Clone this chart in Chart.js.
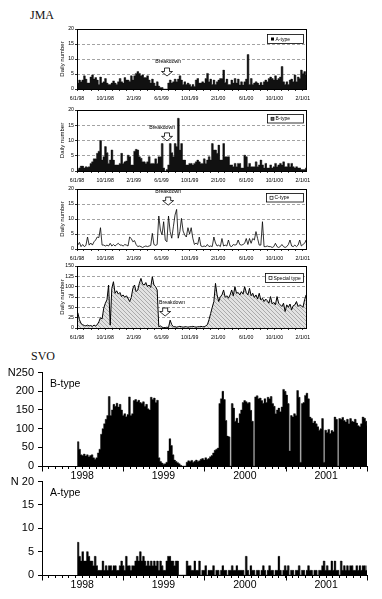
<!DOCTYPE html>
<html><head><meta charset="utf-8">
<script src="https://cdn.jsdelivr.net/npm/chart.js@4.4.1/dist/chart.umd.min.js"></script>
<style>
html,body{margin:0;padding:0;background:#fff;}
body{width:382px;height:599px;position:relative;overflow:hidden;}
canvas{position:absolute;left:0;}
.hd{position:absolute;font-family:"Liberation Serif","DejaVu Serif",serif;font-size:12px;color:#111;line-height:14px;}
</style></head><body>
<div class="hd" style="left:30px;top:8px;">JMA</div>
<div class="hd" style="left:31px;top:349px;">SVO</div>
<canvas id="c1" width="382" height="82" style="top:22px"></canvas>
<canvas id="c2" width="382" height="83" style="top:103px"></canvas>
<canvas id="c3" width="382" height="82" style="top:182px"></canvas>
<canvas id="c4" width="382" height="84" style="top:259px"></canvas>
<canvas id="c5" width="382" height="122" style="top:362px"></canvas>
<canvas id="c6" width="382" height="122" style="top:471px"></canvas>
<script>
// ---------- data (weekly bins) ----------
const jmaStartDate = '6/1/98';   // first JMA bin
const jmaEndDate = '2/19/01';
const jmaTickLabels = ['6/1/98','10/1/98','2/1/99','6/1/99','10/1/99','2/1/00','6/1/00','10/1/00','2/1/01'];
const svoStartDate = '6/8/98';
const svoYears = ['1998','1999','2000','2001'];
const binDays = 7;

const jmaA = [2,3,2.4,3,4.4,3.3,2,2,4,4.7,
3.3,3.8,3,1.5,4,2,2.4,3.5,2,1.5,
1.5,2,2.7,2,1.5,2.4,3.5,2.4,2,3.8,
3,3,2.5,4.4,3,4.4,5.2,5.8,5.2,4.4,
4.7,3.8,3.8,4.4,3,2,3.3,2,1,2.4,
1,0.5,0.5,0,0,0,2,3,2,2.4,
3.3,2.4,3.3,4.4,3,1.5,2.4,1.5,2,1.5,
0.8,1.5,0.8,3,3.5,2,2,2.4,2,3.5,
5.2,2.4,3.3,1.5,3,1.5,2.4,3,3.5,3.5,
6.3,2.2,3.3,1.5,1.5,3,2,3.5,2,3.3,
1.3,2.4,1.3,2.4,3.3,11.5,1.5,3.5,1.5,2,
2.4,2,1.3,2.2,1.3,2.4,3,2.4,3.5,4,
3.5,3,4.4,3,3.5,4,7.5,2.4,1.5,2.4,
1.5,3,3.3,2.4,4.7,2.4,4,3.5,6.3,5.2,
5.8,4.7,5];

const jmaB = [0.5,1,1.6,1.6,1,1.4,1.2,1.4,2.5,3,
4,4,5.8,6.5,10,3.6,4.7,8,6,2.5,
3.6,6.9,3.6,2,2,2,2.5,5.8,2.5,3,
3.3,5.2,4.7,2,2,6.5,7.1,6.9,4.7,4.2,
3,3,2.5,3,4.7,2.5,2.5,2.5,4,2.5,
4.7,4.7,9,1,0,0.5,2,9,6,4.7,
9,8,17.3,6.9,9,3.6,3.6,2,2,2.5,
2.5,2,2.5,3,3.6,3,2.5,2.5,4,2.5,
3.6,4.7,3.6,9,6.9,6.9,5.8,8.5,3.6,3.6,
9,4.7,4.7,4.7,2,2,1.4,2.5,1.4,2.5,
2.5,1,1,5.2,4.7,1.4,2.5,1.4,1.4,1.4,
3,1.4,2,3.6,2,1,2.5,1,1,2,
1,1.4,2.5,1.4,2,2.5,2,3,1.4,1.4,
2.5,1.4,2.5,1.4,1,1.4,1,1,0.5,0.5,
0.5,1,1];

const jmaC = [1.3,2.2,0.8,1.5,0.8,1.2,4,1.3,2,1.3,
2.4,3,4,3.8,7.1,1.3,1.3,1,1.3,1,
1.9,1,1.5,1,1.5,1.9,1.3,1.3,1,1.5,
1.3,1,4,3.5,2.4,2.8,1.5,0.8,1,0.8,
0.5,0.8,1,0.8,1,1.2,5.2,1.5,1.2,1.5,
11,6.3,4.7,9.1,3,2.4,11,5.8,3.6,7.4,
11.3,13.2,3.6,5.8,10.2,6,4.7,4,7.1,5,
7.1,3.6,1.5,2,1.5,4,1,0.8,1,0.8,
1.5,0.8,1,0.8,4,2,1,1.3,0.8,3.5,
1,1.3,1,3,1,0.8,1.5,1.3,1.5,3,
1.5,1.3,1.5,1.9,3.5,1.5,3.5,1.9,3.5,3,
5.8,3.5,1.3,1.3,9.1,0.8,0.8,1,0.8,0.8,
0.5,0.8,1.9,0.8,0.5,0.8,1.5,0.8,0.5,0.8,
1.5,3,1,0.8,1.3,0.8,1.3,3,1,1.5,
1.9,3,1];

const jmaSpecial = [37,20,11,8,6,5,7,5,6,4,
7,5,8,15,25,22,48,60,68,104,
7,96,112,84,90,82,86,76,80,74,
78,72,64,74,96,104,88,92,108,120,
106,104,110,100,104,98,124,104,100,92,
3,5,2,1,1,2,1,19,8,3,
3,2,3,4,3,2,3,3,2,3,
3,4,3,2,3,3,4,3,3,5,
8,20,35,50,64,108,80,64,76,80,
92,74,78,72,80,92,78,100,84,86,
80,88,82,100,86,80,96,78,84,74,
80,70,84,68,72,64,70,66,60,76,
58,62,56,76,60,56,52,60,40,56,
50,58,44,54,56,64,52,56,54,50,
68,80,60];

const svoB = [65,45,30,28,32,27,30,25,28,30,
22,18,22,35,45,85,100,113,125,135,
186,135,150,165,160,168,158,165,150,135,
140,132,138,185,135,140,175,178,172,176,
170,168,172,160,165,153,150,184,178,182,
170,176,22,12,8,5,6,10,40,73,
55,30,16,12,9,6,2,0,0,0,
10,14,12,15,10,13,16,12,14,18,
20,16,22,18,20,25,28,35,42,45,
48,167,180,200,178,122,80,78,0,167,
155,120,128,115,140,150,170,175,172,168,
170,149,120,0,185,188,180,182,175,168,
180,170,184,180,186,167,160,140,150,155,
145,158,205,200,190,167,40,135,131,140,
135,202,184,10,167,170,189,195,180,131,
127,115,120,113,105,96,100,127,10,96,
90,98,87,95,92,131,125,0,127,125,
130,122,118,125,113,127,120,118,125,115,
108,105,113,131,128,120,109];

const svoA = [7,4,3,5,3,3,5,4,3,3,
2,4,2,1,1,1,3,1,2,1,
2,2,1,2,2,1,1,2,3,2,
1,4,2,2,1,2,2,3,4,3,
5,3,4,3,2,3,2,3,2,3,
2,3,1,3,2,1,1,3,4,4,
3,3,2,3,3,0,0,0,0,0,
3,2,2,1,1,3,1,1,3,0,
1,1,2,0,1,1,1,2,0,1,
1,0,1,2,1,1,0,1,1,2,
1,1,2,1,1,1,1,0,4,1,
0,2,1,1,0,1,1,0,1,2,
1,0,1,2,1,1,0,1,1,4,
1,0,1,2,1,2,0,1,1,0,
1,1,2,0,1,1,0,1,2,1,
1,0,1,1,0,1,1,2,3,1,
2,1,1,3,1,3,1,1,0,3,
1,2,1,2,1,2,2,1,1,2,
1,2,1,2,2,1,2];

// ---------- helpers ----------
Chart.defaults.font.family = "'Liberation Sans', Arial, sans-serif";
Chart.defaults.color = '#000';
Chart.defaults.animation = false;
const DAY = 86400000, EPOCH = Date.UTC(1998,0,1);
function dayOf(y,m,d){ return Math.round((Date.UTC(y,m-1,d)-EPOCH)/DAY); }
function parseMDY(s){ const p=s.split('/').map(Number); const yy=p[2]<50?2000+p[2]:1900+p[2]; return dayOf(yy,p[0],p[1]); }
function monthStarts(d0,d1){ const out=[]; for(let y=1998;y<=2002;y++) for(let m=1;m<=12;m++){ const d=dayOf(y,m,1); if(d>=d0&&d<=d1) out.push(d);} return out; }

const jmaMin = parseMDY(jmaStartDate), jmaMax = parseMDY(jmaEndDate);
const jmaTickDays = jmaTickLabels.map(parseMDY);
const jmaMonthTicks = monthStarts(jmaMin, jmaMax);
const svoMin = dayOf(1998,1,1), svoMax = dayOf(2002,1,1);
const svoStart = parseMDY(svoStartDate);
const svoMonthTicks = monthStarts(svoMin, svoMax);
const svoLabelDays = svoYears.map(y=>dayOf(+y,7,1));
const svoYearDays = svoYears.map(y=>dayOf(+y,1,1)).concat([svoMax]);

// each weekly bin is drawn as a flat step [binStart, binEnd]
function steps(arr, start){ const out=[]; arr.forEach((v,i)=>{ out.push({x:start+binDays*i, y:v}); out.push({x:start+binDays*(i+1), y:v}); }); return out; }
function pts(arr, start){ return arr.map((v,i)=>({x:start+binDays*i+binDays/2, y:v})); }

function makeDecor(o){
  return {id:'decor', afterDatasetsDraw(chart){
    const {ctx, chartArea:a, scales:{x,y}} = chart;
    ctx.save();
    if(o.frame){ ctx.strokeStyle='#000'; ctx.lineWidth=1; ctx.setLineDash([]);
      ctx.strokeRect(Math.round(a.left)+0.5, Math.round(a.top)+0.5, Math.round(a.right-a.left)-1, Math.round(a.bottom-a.top)); }
    if(o.legend){ const L=o.legend;
      const bx=Math.round(a.right-L.dx)+0.5, by=Math.round(a.top+L.dy)+0.5;
      ctx.fillStyle='#fff'; ctx.fillRect(bx,by,L.w,L.h);
      ctx.strokeStyle='#000'; ctx.lineWidth=0.8; ctx.strokeRect(bx,by,L.w,L.h);
      const sx=bx+3.5, sy=by+L.h/2-1.5;
      if(L.sym==='fill'){ ctx.fillStyle='#000'; ctx.fillRect(sx,sy,3,3); }
      else if(L.sym==='gray'){ ctx.fillStyle='#666'; ctx.fillRect(sx,sy,3,3); ctx.lineWidth=0.6; ctx.strokeRect(sx,sy,3,3); }
      else { ctx.lineWidth=0.6; ctx.strokeRect(sx,sy,3,3); }
      ctx.fillStyle='#000'; ctx.font='5px "Liberation Sans", Arial'; ctx.textBaseline='middle'; ctx.textAlign='left';
      ctx.fillText(L.text, sx+4.5, by+L.h/2+0.3);
    }
    if(o.bd){ const b=o.bd;
      ctx.fillStyle='#000'; ctx.font='5.2px "Liberation Sans", Arial'; ctx.textAlign='center'; ctx.textBaseline='middle';
      ctx.fillText('Breakdown', x.getPixelForValue(b.td), y.getPixelForValue(b.tv));
      const cx=x.getPixelForValue(b.ad), y0=y.getPixelForValue(b.av);
      ctx.beginPath(); ctx.moveTo(cx-2.5,y0); ctx.lineTo(cx+2.5,y0); ctx.lineTo(cx+2.5,y0+3.5); ctx.lineTo(cx+5.5,y0+3.5);
      ctx.lineTo(cx,y0+8); ctx.lineTo(cx-5.5,y0+3.5); ctx.lineTo(cx-2.5,y0+3.5); ctx.closePath();
      ctx.fillStyle='#fff'; ctx.fill(); ctx.strokeStyle='#000'; ctx.lineWidth=0.8; ctx.stroke();
    }
    if(o.tag){ ctx.fillStyle='#000'; ctx.font='10.5px "Liberation Sans", Arial'; ctx.textAlign='left'; ctx.textBaseline='middle';
      ctx.fillText(o.tag, a.left+8, a.top+12); }
    if(o.yearTicks){ ctx.strokeStyle='#000'; ctx.lineWidth=1;
      svoYearDays.forEach(d=>{ const px=Math.round(x.getPixelForValue(d))+0.5; ctx.beginPath(); ctx.moveTo(px,a.bottom); ctx.lineTo(px,a.bottom+5.5); ctx.stroke(); }); }
    ctx.restore();
  }};
}

function jmaChart(id, datasets, ymax, ystep, deco){
  return new Chart(document.getElementById(id), {
    type:'line', data:{datasets},
    options:{ responsive:false, animation:false,
      layout:{padding:{left:57,right:75,top:7,bottom:0}},
      plugins:{legend:{display:false}, tooltip:{enabled:false}},
      scales:{
        x:{type:'linear', min:jmaMin, max:jmaMax, offset:false,
          afterBuildTicks:s=>{ s.ticks = jmaMonthTicks.map(v=>({value:v})); },
          afterFit:s=>{ s.height=15; },
          ticks:{autoSkip:false, maxRotation:0, minRotation:0, font:{size:5.2}, padding:4,
            callback:v=>{ const i=jmaTickDays.indexOf(v); return i>=0?jmaTickLabels[i]:''; }},
          grid:{drawOnChartArea:false, tickLength:2, color:'#000', offset:false, lineWidth:0.8},
          border:{display:false}},
        y:{min:0, max:ymax, afterFit:s=>{ s.width=20; },
          ticks:{stepSize:ystep, font:{size:5.2}, padding:1},
          grid:{color:c=>(c.tick&&(c.tick.value===0||c.tick.value===ymax))?'rgba(0,0,0,0)':'#8c8c8c', tickColor:'#000', tickLength:2, lineWidth:0.8},
          border:{display:false, dash:[3,2]},
          title:{display:true, text:'Daily number', font:{size:6}, padding:{top:1.5,bottom:0}}}
      }},
    plugins:[makeDecor(deco)]
  });
}

function stepArea(label, arr, start, color){
  return {label, data:steps(arr,start), borderColor:color, borderWidth:0.4, pointRadius:0, tension:0, fill:'origin', backgroundColor:color};
}

jmaChart('c1', [stepArea('A-type', jmaA, jmaMin, '#111')], 20, 5,
  {frame:true, legend:{text:'A-type', sym:'fill', dx:40, dy:5, w:36, h:9},
   bd:{td:545, tv:9, ad:540, av:7}});
jmaChart('c2', [stepArea('B-type', jmaB, jmaMin, '#111')], 20, 5,
  {frame:true, legend:{text:'B-type', sym:'gray', dx:40, dy:4, w:36, h:8.5},
   bd:{td:519, tv:14.1, ad:540, av:12.5}});
jmaChart('c3', [{label:'C-type', data:pts(jmaC,jmaMin), borderColor:'#000', borderWidth:0.8, pointRadius:0, tension:0, fill:false}], 20, 5,
  {frame:true, legend:{text:'C-type', sym:'open', dx:41, dy:4, w:37, h:8.5},
   bd:{td:545, tv:19, ad:545, av:17.3}});

const hc = document.createElement('canvas'); hc.width=4; hc.height=4;
const hg = hc.getContext('2d'); hg.fillStyle='#e2e2e2'; hg.fillRect(0,0,4,4);
hg.strokeStyle='#9c9c9c'; hg.lineWidth=0.8; hg.beginPath(); hg.moveTo(-1,-1); hg.lineTo(5,5); hg.stroke();
const hatch = document.getElementById('c4').getContext('2d').createPattern(hc,'repeat');
jmaChart('c4', [{label:'Special type', data:pts(jmaSpecial,jmaMin), borderColor:'#000', borderWidth:1, pointRadius:0, tension:0, fill:'origin', backgroundColor:hatch}], 150, 25,
  {frame:true, legend:{text:'Special type', sym:'open', dx:42, dy:7, w:38, h:9},
   bd:{td:562, tv:60.5, ad:532, av:48.4}});

function svoChart(id, arr, ymax, ystep, topLabel, tag){
  return new Chart(document.getElementById(id), {
    type:'line',
    data:{datasets:[stepArea(tag, arr, svoStart, '#000')]},
    options:{ responsive:false, animation:false,
      layout:{padding:{left:0,right:15,top:10,bottom:0}},
      plugins:{legend:{display:false}, tooltip:{enabled:false}},
      scales:{
        x:{type:'linear', min:svoMin, max:svoMax, offset:false,
          afterBuildTicks:s=>{ s.ticks = svoMonthTicks.map(v=>({value:v})); },
          afterFit:s=>{ s.height=18; },
          ticks:{autoSkip:false, maxRotation:0, minRotation:0, font:{size:10.5}, padding:1,
            callback:v=>{ const i=svoLabelDays.indexOf(v); return i>=0?svoYears[i]:''; }},
          grid:{drawOnChartArea:false, tickLength:3, color:'#000', lineWidth:1, offset:false},
          border:{display:true, color:'#000', width:1}},
        y:{min:0, max:ymax, afterFit:s=>{ s.width=42; },
          ticks:{stepSize:ystep, font:{size:11}, padding:4, callback:v=> v===ymax?topLabel:String(v)},
          grid:{drawOnChartArea:false, tickLength:4, color:'#000', lineWidth:1},
          border:{display:true, color:'#000', width:1}}
      }},
    plugins:[makeDecor({tag, yearTicks:true})]
  });
}
svoChart('c5', svoB, 250, 50, 'N250', 'B-type');
svoChart('c6', svoA, 20, 5, 'N 20', 'A-type');
</script>
</body></html>
